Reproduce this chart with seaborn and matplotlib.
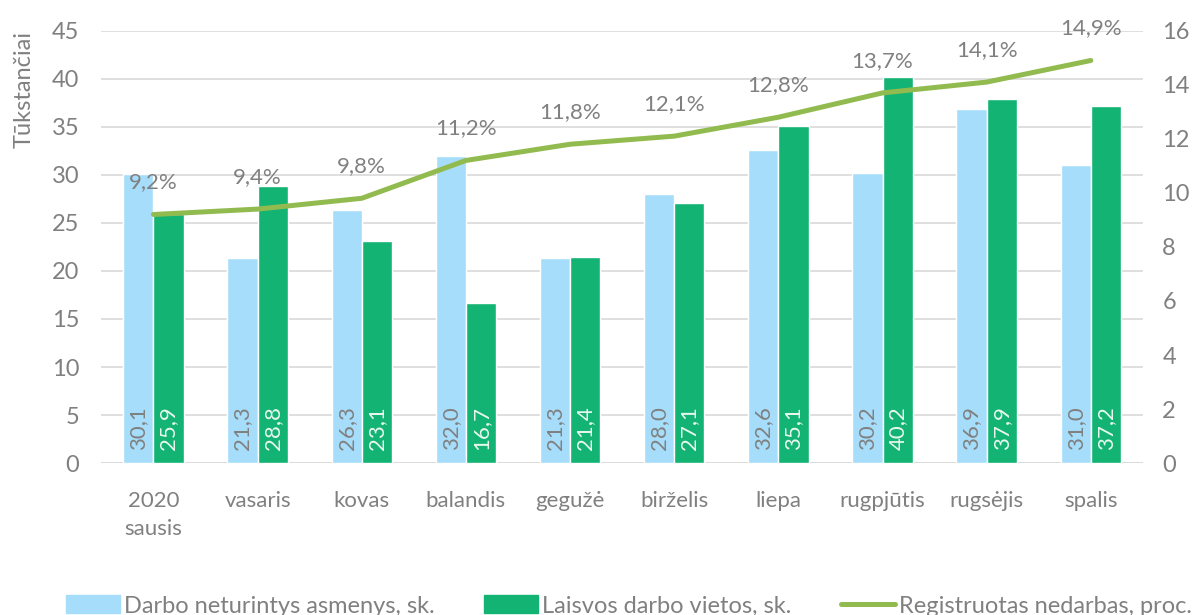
import numpy as np
import pandas as pd
import matplotlib
matplotlib.use("Agg")
import matplotlib.pyplot as plt
import seaborn as sns
from matplotlib.patches import Patch
from matplotlib.lines import Line2D

months = ['2020\nsausis', 'vasaris', 'kovas', 'balandis', 'gegužė',
          'birželis', 'liepa', 'rugpjūtis', 'rugsėjis', 'spalis']
unemployed = [30.1, 21.3, 26.3, 32.0, 21.3, 28.0, 32.6, 30.2, 36.9, 31.0]
vacancies = [25.9, 28.8, 23.1, 16.7, 21.4, 27.1, 35.1, 40.2, 37.9, 37.2]
rate = [9.2, 9.4, 9.8, 11.2, 11.8, 12.1, 12.8, 13.7, 14.1, 14.9]

s1 = 'Darbo neturintys asmenys, sk.'
s2 = 'Laisvos darbo vietos, sk.'
s3 = 'Registruotas nedarbas, proc.'

blue = '#A6DDFB'
green = '#12B373'
olive = '#92BB4F'
grey = '#808080'

df = pd.DataFrame({
    'month': months * 2,
    'value': unemployed + vacancies,
    'series': [s1] * len(months) + [s2] * len(months),
})

sns.set_style("white")
plt.rcParams['font.family'] = ['Lato', 'DejaVu Sans']

fig = plt.figure(figsize=(11.93, 6.15), dpi=100)
ax = fig.add_axes([0.085, 0.247, 0.873, 0.703])

sns.barplot(data=df, x='month', y='value', hue='series', order=months,
            palette=[blue, green], width=0.58, gap=0, saturation=1,
            legend=False, ax=ax)

ax.set_ylim(0, 45)
ax.set_yticks(range(0, 46, 5))
ax.set_xlim(-0.5, len(months) - 0.5)
ax.yaxis.grid(True, color='#D9D9D9', linewidth=1.2)
ax.set_axisbelow(True)
for sp in ax.spines.values():
    sp.set_visible(False)
ax.axhline(0, color='#D9D9D9', linewidth=1.2, zorder=0)
ax.tick_params(axis='y', length=0, labelsize=17, labelcolor=grey, pad=16)
ax.tick_params(axis='x', length=0, labelsize=16, labelcolor=grey, pad=20)
ax.set_xlabel('')
ax.set_ylabel('Tūkstančiai', fontsize=17, color=grey, loc='top', labelpad=12)
for t in ax.get_xticklabels():
    t.set_linespacing(1.5)

# value labels inside bars
for i, cont in enumerate(ax.containers):
    col = grey if i == 0 else '#E8F7EF'
    for bar, v in zip(cont, [unemployed, vacancies][i]):
        ax.text(bar.get_x() + bar.get_width() / 2, 1.4, f'{v:.1f}'.replace('.', ','),
                rotation=90, ha='center', va='bottom', fontsize=16, color=col)

ax2 = ax.twinx()
sns.lineplot(x=np.arange(len(months)), y=rate, color=olive, linewidth=3.6,
             ax=ax2, solid_capstyle='round')
ax2.set_ylim(0, 16)
ax2.set_yticks(range(0, 17, 2))
ax2.set_xlim(-0.5, len(months) - 0.5)
for sp in ax2.spines.values():
    sp.set_visible(False)
ax2.tick_params(axis='y', length=0, labelsize=17, labelcolor=grey, pad=14)
ax2.grid(False)
for x, r in enumerate(rate):
    ax2.annotate(f'{r:.1f}%'.replace('.', ','), (x, r), xytext=(0, 16),
                 textcoords='offset points', ha='center', va='bottom',
                 fontsize=16, color=grey)

handles = [Patch(color=blue), Patch(color=green),
           Line2D([0], [0], color=olive, linewidth=3.6, solid_capstyle='round')]
fig.legend(handles, [s1, s2, s3], loc='lower center', ncol=3, frameon=False,
           bbox_to_anchor=(0.527, -0.037), fontsize=17, labelcolor=grey,
           handlelength=2.3, handleheight=0.8, handletextpad=0.15, columnspacing=2.1)

fig.savefig('out.png', dpi=100)
